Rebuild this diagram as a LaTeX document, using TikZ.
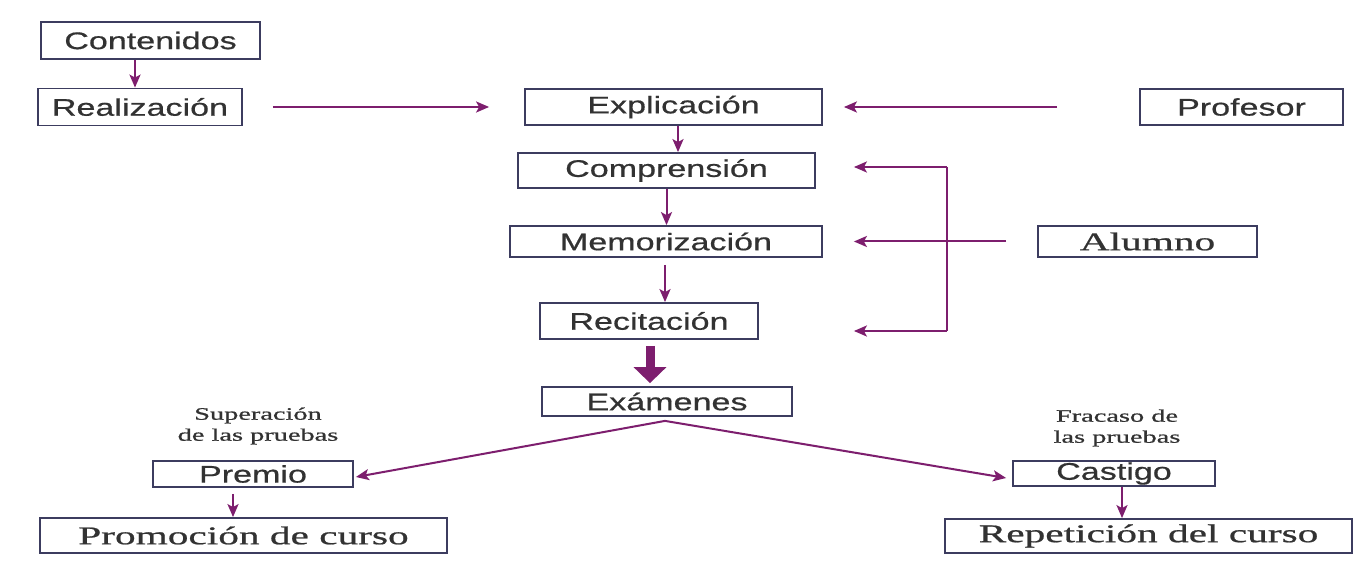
\documentclass[tikz,border=0pt]{standalone}
\usepackage{fontspec}
\usetikzlibrary{arrows.meta,calc}
\newfontfamily\sansw[FakeStretch=1.42,FakeBold=0.6]{Liberation Sans}
\newfontfamily\serifw[FakeStretch=1.62,FakeBold=0.8]{Liberation Serif}
\definecolor{arrc}{RGB}{125,30,110}
\definecolor{boxc}{RGB}{60,60,95}
\definecolor{txtc}{RGB}{50,50,50}
\begin{document}
\begin{tikzpicture}[x=1pt,y=-1pt,
  box/.style={draw=boxc, line width=1.8pt, inner sep=0pt, text=txtc},
  sbox/.style={box, font=\sansw\fontsize{24}{26}\selectfont},
  rbox/.style={box, font=\serifw\fontsize{25.5}{27}\selectfont},
  lbl/.style={align=center, inner sep=0pt, text=txtc, font=\serifw\fontsize{17.5}{21}\selectfont},
  conn/.style={draw=arrc, line width=2pt},
  arr/.style={conn, -{Stealth[length=13pt,width=11pt,inset=3pt]}},
  thick arr/.style={draw=arrc, line width=9pt, -{Triangle[length=16pt,width=32pt]}}]
\useasboundingbox[fill=white] (0,0) rectangle (1355,561);

% boxes
\node[sbox, minimum width=219pt, minimum height=37pt] (cont) at (150.5,40.5) {Contenidos};
\node[sbox, minimum width=204pt, minimum height=37pt] (real) at (140,107) {Realización};
\node[sbox, minimum width=297pt, minimum height=36pt] (expl) at (673.5,107) {Explicación};
\node[sbox, minimum width=203pt, minimum height=36pt] (prof) at (1241.5,107) {Profesor};
\node[sbox, minimum width=297pt, minimum height=35pt] (comp) at (666.5,170.5) {Comprensión};
\node[sbox, minimum width=312pt, minimum height=31pt] (memo) at (666,241.5) {Memorización};
\node[rbox, minimum width=219pt, minimum height=31pt] (alum) at (1147.5,241.5) {Alumno};
\node[sbox, minimum width=218pt, minimum height=36pt] (reci) at (649,321) {Recitación};
\node[sbox, minimum width=250pt, minimum height=29pt] (exam) at (667,401.5) {Exámenes};
\node[sbox, minimum width=200pt, minimum height=26pt] (prem) at (253,474) {Premio};
\node[sbox, minimum width=202pt, minimum height=25pt] (cast) at (1114,473.5) {Castigo};
\node[rbox, minimum width=407pt, minimum height=35pt] (prom) at (243.5,535.5) {Promoción de curso};
\node[rbox, minimum width=407pt, minimum height=34pt] (repe) at (1148.5,536) {Repetición del curso};

% labels
\node[lbl] (lsup) at (258,426) {Superación\\de las pruebas};
\node[lbl] (lfra) at (1117,428) {Fracaso de\\las pruebas};

% connectors
\draw[arr] ([xshift=-15.5pt]cont.south) -- ([xshift=-5pt]real.north);
\draw[arr] ($(real.east)+(30,0)$) -- ($(expl.west)+(-35,0)$);
\draw[arr] ($(prof.west)+(-82,0)$) -- ($(expl.east)+(21,0)$);
\draw[arr] ($(expl.south)+(4.5,0)$) -- ($(comp.north)+(11.5,0)$);
\draw[arr] (comp.south) -- (comp.south |- memo.north);
\coordinate (m1) at ($(memo.south)+(-1,7)$);
\draw[arr] (m1) -- (m1 |- reci.north);
\coordinate (r1) at ($(reci.south)+(1,6)$);
\draw[thick arr] (r1) -- ($(r1 |- exam.north)+(0,-3)$);
\draw[arr] ($(alum.west)+(-31,0)$) -- ($(memo.east)+(31,0)$);

\coordinate (bt) at ($(comp.east)+(131,-3.5)$);
\coordinate (bb) at ($(reci.east)+(188,10)$);
\draw[conn] (bt) -- (bb);
\draw[arr] (bt) -- ($(comp.east)+(38,-3.5)$);
\draw[arr] (bb) -- ($(reci.east)+(95,10)$);

\coordinate (apex) at ($(exam.south)+(-2,4)$);
\draw[arr] (apex) -- ($(prem.east)+(2,3)$);
\draw[arr] (apex) -- ($(cast.west)+(-6,4.5)$);

\coordinate (p1) at ($(prem.south)+(-20,6)$);
\draw[arr] (p1) -- (p1 |- prom.north);
\coordinate (c1) at ($(cast.south)+(8,0)$);
\draw[arr] (c1) -- (c1 |- repe.north);
\end{tikzpicture}
\end{document}
